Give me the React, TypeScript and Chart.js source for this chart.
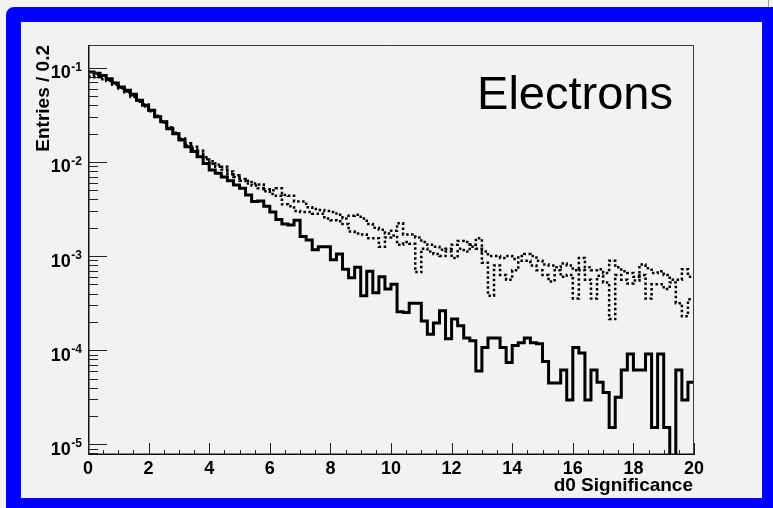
import React, { useEffect, useRef } from "react";
import { Chart, registerables } from "chart.js";

Chart.register(...registerables);

// ---- axis ranges & ticks ----
const X_MIN = 0;
const X_MAX = 20;
const BIN_WIDTH = 0.2;
const Y_MIN = 7.7e-6;
const Y_MAX = 0.175;
const X_TICKS = [0, 2, 4, 6, 8, 10, 12, 14, 16, 18, 20];
const X_TICK_LABELS = ["0", "2", "4", "6", "8", "10", "12", "14", "16", "18", "20"];
const X_MINOR_STEP = 0.5;
const Y_DECADES = [1e-5, 1e-4, 1e-3, 1e-2, 1e-1];
const Y_DECADE_EXPONENTS = ["-5", "-4", "-3", "-2", "-1"];
const Y_MINOR_MANTISSAS = [2, 3, 4, 5, 6, 7, 8, 9];

const X_TITLE = "d0 Significance";
const Y_TITLE = "Entries / 0.2";
const LABEL = "Electrons";

// ---- series (entries per 0.2 bin, 100 bins from 0 to 20) ----
const SOLID = [
  0.0902, 0.0879, 0.0832, 0.0766, 0.0689, 0.0625, 0.0577, 0.0525, 0.0453, 0.0401,
  0.0355, 0.0302, 0.0267, 0.0226, 0.0200, 0.0171, 0.0145, 0.0129, 0.0114, 0.00966,
  0.00822, 0.00759, 0.00692, 0.00631, 0.00569, 0.00525, 0.00447, 0.00380, 0.00385, 0.00339,
  0.00295, 0.00245, 0.00219, 0.00214, 0.00240, 0.00162, 0.00148, 0.00117, 0.00126, 0.00126,
  0.000912, 0.00105, 0.000724, 0.000589, 0.000759, 0.000380, 0.000692, 0.000407, 0.000603, 0.000447,
  0.000501, 0.000257, 0.000251, 0.000316, 0.000316, 0.000204, 0.000148, 0.000195, 0.000263, 0.000132,
  0.000214, 0.000182, 0.000135, 0.000126, 0.0000603, 0.000107, 0.000135, 0.000135, 0.000107, 0.0000741,
  0.000112, 0.000120, 0.000135, 0.000120, 0.000117, 0.0000759, 0.0000447, 0.0000447, 0.0000617, 0.0000295,
  0.000107, 0.0000933, 0.0000295, 0.0000617, 0.0000457, 0.0000355, 0.0000151, 0.0000316, 0.0000617, 0.0000912,
  0.0000617, 0.0000617, 0.0000912, 0.0000151, 0.0000912, 0.0000151, 0, 0.0000617, 0.0000295, 0.0000457,
];

const DOTTED_A = [
  0.0813, 0.0832, 0.0794, 0.0741, 0.0692, 0.0617, 0.0562, 0.0513, 0.0457, 0.0407,
  0.0355, 0.0309, 0.0269, 0.0234, 0.0204, 0.0178, 0.0158, 0.0145, 0.0132, 0.0112,
  0.0102, 0.00933, 0.00891, 0.00794, 0.00724, 0.00661, 0.00631, 0.00589, 0.00575, 0.00513,
  0.00501, 0.00525, 0.00447, 0.00437, 0.00380, 0.00380, 0.00331, 0.00316, 0.00309, 0.00302,
  0.00295, 0.00275, 0.00251, 0.00269, 0.00275, 0.00251, 0.00219, 0.00200, 0.00191, 0.00174,
  0.00186, 0.00224, 0.00170, 0.00170, 0.00158, 0.00141, 0.00132, 0.00126, 0.00117, 0.00120,
  0.00132, 0.00145, 0.00141, 0.00126, 0.00155, 0.00112, 0.00100, 0.00100, 0.000955, 0.00100,
  0.000933, 0.00100, 0.00105, 0.00100, 0.000891, 0.000813, 0.000794, 0.000759, 0.000832, 0.000794,
  0.000708, 0.000955, 0.000759, 0.000708, 0.000724, 0.000661, 0.000891, 0.000759, 0.000692, 0.000661,
  0.000603, 0.000813, 0.000741, 0.000661, 0.000692, 0.000631, 0.000562, 0.000562, 0.000724, 0.000603,
];

const DOTTED_B = [
  0.0794, 0.0794, 0.0759, 0.0724, 0.0661, 0.0603, 0.0550, 0.0490, 0.0437, 0.0389,
  0.0347, 0.0302, 0.0263, 0.0229, 0.0200, 0.0174, 0.0151, 0.0138, 0.0123, 0.0107,
  0.00955, 0.00891, 0.00832, 0.00741, 0.00692, 0.00631, 0.00589, 0.00562, 0.00525, 0.00490,
  0.00457, 0.00437, 0.00355, 0.00339, 0.00302, 0.00295, 0.00295, 0.00282, 0.00282, 0.00251,
  0.00240, 0.00234, 0.00219, 0.00182, 0.00174, 0.00170, 0.00155, 0.00155, 0.00126, 0.00158,
  0.00166, 0.00132, 0.00141, 0.00135, 0.000676, 0.00120, 0.00112, 0.00105, 0.00100, 0.00112,
  0.000955, 0.00120, 0.00112, 0.00132, 0.00120, 0.000851, 0.000380, 0.000794, 0.000631, 0.000562,
  0.000708, 0.000891, 0.000891, 0.000794, 0.000708, 0.000631, 0.000537, 0.000708, 0.000603, 0.000631,
  0.000355, 0.000708, 0.000562, 0.000355, 0.000617, 0.000525, 0.000214, 0.000631, 0.000562, 0.000513,
  0.000550, 0.000631, 0.000355, 0.000501, 0.000501, 0.000447, 0.000525, 0.000316, 0.000229, 0.000347,
];

const FONT = "'Liberation Sans', Arial, Helvetica, sans-serif";

function toSteps(values: number[]) {
  const pts = values.map((v, i) => ({
    x: X_MIN + i * BIN_WIDTH,
    y: v > 0 ? v : Y_MIN / 100,
  }));
  pts.push({ x: X_MAX, y: pts[pts.length - 1].y });
  return pts;
}

const rootAxesPlugin = {
  id: "rootAxes",
  afterDatasetsDraw(chart: any) {
    const { ctx, chartArea: a, scales } = chart;
    const xs = scales.x;
    const ys = scales.y;
    ctx.save();

    // frame: top & right thin
    ctx.strokeStyle = "#3a3a3a";
    ctx.lineWidth = 1;
    ctx.beginPath();
    ctx.moveTo(a.left, a.top + 0.5);
    ctx.lineTo(a.right - 0.5, a.top + 0.5);
    ctx.lineTo(a.right - 0.5, a.bottom);
    ctx.stroke();

    // axes: left & bottom
    ctx.strokeStyle = "#111";
    ctx.lineWidth = 1.5;
    ctx.beginPath();
    ctx.moveTo(a.left + 0.75, a.top);
    ctx.lineTo(a.left + 0.75, a.bottom - 0.75);
    ctx.lineTo(a.right, a.bottom - 0.75);
    ctx.stroke();

    // y ticks
    ctx.lineWidth = 1;
    ctx.strokeStyle = "#222";
    ctx.beginPath();
    Y_DECADES.forEach((d) => {
      const py = Math.round(ys.getPixelForValue(d)) + 0.5;
      ctx.moveTo(a.left, py);
      ctx.lineTo(a.left + 19, py);
    });
    const decadesForMinor = [1e-6, ...Y_DECADES];
    decadesForMinor.forEach((d) => {
      Y_MINOR_MANTISSAS.forEach((m) => {
        const v = m * d;
        if (v < Y_MIN || v > Y_MAX) return;
        const py = Math.round(ys.getPixelForValue(v)) + 0.5;
        ctx.moveTo(a.left, py);
        ctx.lineTo(a.left + 10, py);
      });
    });
    ctx.stroke();

    // x ticks
    ctx.beginPath();
    for (let t = X_MIN; t <= X_MAX + 1e-9; t += X_MINOR_STEP) {
      const isMajor = X_TICKS.some((m) => Math.abs(m - t) < 1e-9);
      const px = Math.round(xs.getPixelForValue(t)) + 0.5;
      ctx.moveTo(px, a.bottom);
      ctx.lineTo(px, a.bottom - (isMajor ? 12 : 5));
    }
    ctx.stroke();

    // x tick labels
    ctx.fillStyle = "#000";
    ctx.font = `bold 18px ${FONT}`;
    ctx.textAlign = "center";
    ctx.textBaseline = "alphabetic";
    X_TICKS.forEach((t, i) => {
      const px = xs.getPixelForValue(t);
      ctx.fillText(X_TICK_LABELS[i], px, a.bottom + 19);
    });

    // y tick labels 10^n
    Y_DECADES.forEach((d, i) => {
      const py = ys.getPixelForValue(d);
      const right = a.left - 6;
      ctx.font = `bold 12px ${FONT}`;
      ctx.textAlign = "right";
      const sup = Y_DECADE_EXPONENTS[i];
      const supW = ctx.measureText(sup).width;
      ctx.fillText(sup, right, py + 3);
      ctx.font = `bold 18px ${FONT}`;
      ctx.fillText("10", right - supW - 0.5, py + 10.5);
    });

    // axis titles
    ctx.font = `bold 19px ${FONT}`;
    ctx.textAlign = "right";
    ctx.fillText(X_TITLE, a.right - 1, a.bottom + 36);

    ctx.save();
    ctx.translate(49, a.top);
    ctx.rotate(-Math.PI / 2);
    ctx.textAlign = "right";
    ctx.fillText(Y_TITLE, 0, 0);
    ctx.restore();

    // label
    ctx.font = `47px ${FONT}`;
    ctx.textAlign = "right";
    ctx.fillText(LABEL, a.right - 21, a.top + 64);

    ctx.restore();
  },
};

export default function App() {
  const canvasRef = useRef<HTMLCanvasElement | null>(null);

  useEffect(() => {
    const canvas = canvasRef.current;
    if (!canvas) return;
    const chart = new Chart(canvas, {
      type: "line",
      data: {
        datasets: [
          {
            label: "solid",
            data: toSteps(SOLID),
            borderColor: "#000",
            borderWidth: 3,
            stepped: true,
            pointRadius: 0,
            fill: false,
            borderJoinStyle: "miter",
            borderCapStyle: "butt",
          },
          {
            label: "dottedA",
            data: toSteps(DOTTED_A),
            borderColor: "#000",
            borderWidth: 2.5,
            borderDash: [2.5, 2.5],
            stepped: true,
            pointRadius: 0,
            fill: false,
          },
          {
            label: "dottedB",
            data: toSteps(DOTTED_B),
            borderColor: "#000",
            borderWidth: 2.5,
            borderDash: [2.5, 2.5],
            stepped: true,
            pointRadius: 0,
            fill: false,
          },
        ],
      },
      options: {
        responsive: false,
        animation: false,
        devicePixelRatio: 1,
        layout: { padding: { left: 88, top: 45, right: 79, bottom: 53 } },
        plugins: {
          legend: { display: false },
          tooltip: { enabled: false },
        },
        scales: {
          x: { type: "linear", min: X_MIN, max: X_MAX, display: false },
          y: { type: "logarithmic", min: Y_MIN, max: Y_MAX, display: false },
        },
      },
      plugins: [rootAxesPlugin],
    });
    return () => chart.destroy();
  }, []);

  return (
    <div
      style={{
        position: "fixed",
        left: 0,
        top: 0,
        width: 773,
        height: 508,
        overflow: "hidden",
        background: "#f2f2f2",
      }}
    >
      <div
        style={{
          position: "absolute",
          left: 768,
          top: 0,
          width: 1,
          height: 7,
          background: "#9a9a9a",
        }}
      />
      <div
        style={{
          position: "absolute",
          left: 6,
          top: 7,
          width: 767,
          height: 501,
          boxSizing: "border-box",
          borderStyle: "solid",
          borderColor: "#0000ff",
          borderWidth: "15px 11px 10px 15px",
          borderTopLeftRadius: 8,
          background: "#f2f2f2",
        }}
      />
      <canvas
        ref={canvasRef}
        width={773}
        height={508}
        style={{ position: "absolute", left: 0, top: 0, width: 773, height: 508 }}
      />
    </div>
  );
}
